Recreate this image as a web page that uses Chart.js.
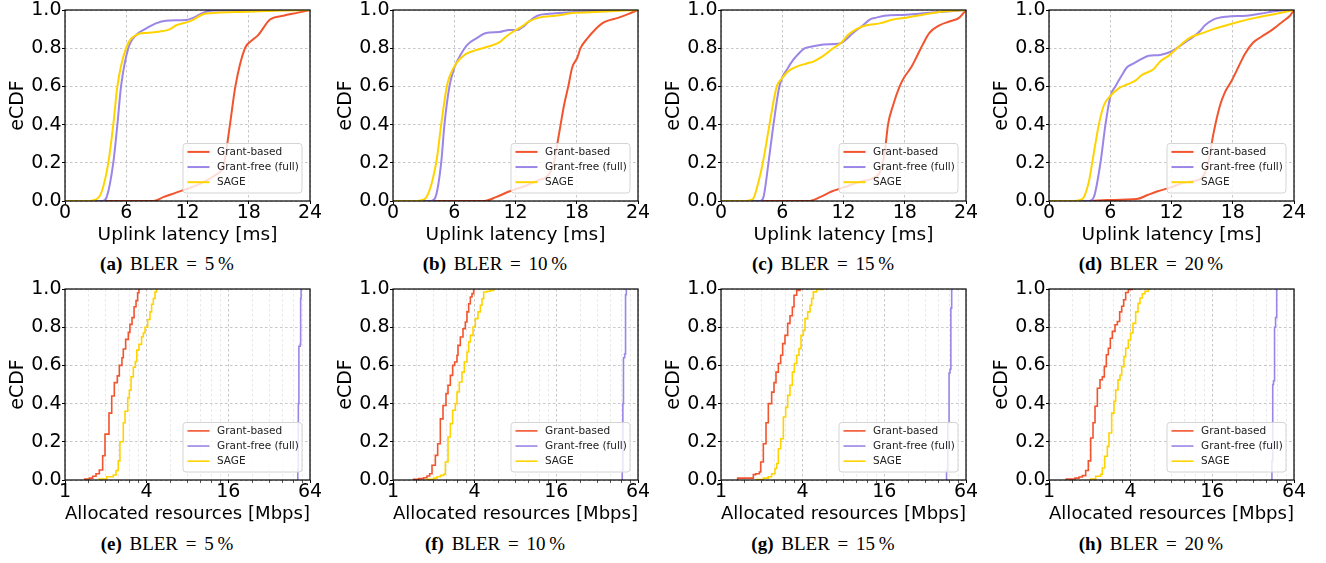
<!DOCTYPE html>
<html>
<head>
<meta charset="utf-8">
<script src="https://cdn.jsdelivr.net/npm/chart.js@4.4.0/dist/chart.umd.min.js"></script>
<style>
  body { margin: 0; background: #fff; width: 1326px; height: 563px; position: relative; overflow: hidden; }
  canvas { position: absolute; }
  .cap { position: absolute; width: 240px; text-align: center; font-family: "Liberation Serif", "DejaVu Serif", serif;
         font-size: 19px; line-height: 20px; word-spacing: 3px; color: #000; white-space: nowrap; }
</style>
</head>
<body>
<script>
// series + labels
const seriesNames = ['Grant-based', 'Grant-free (full)', 'SAGE'];
const seriesColors = ['#f2542d', '#9b85e6', '#ffd300'];
const blerValues = [5, 10, 15, 20];
const topLetters = ['a', 'b', 'c', 'd'];
const bottomLetters = ['e', 'f', 'g', 'h'];
const latTicks = [0, 6, 12, 18, 24];
const resTicks = [1, 4, 16, 64];
const resMinorTicks = [1.5, 2, 2.5, 3, 3.5, 6, 8, 10, 12, 14, 24, 32, 40, 48, 56];
const cdfTicks = [0, 0.2, 0.4, 0.6, 0.8, 1.0];

// uplink latency [ms] vs eCDF
const lat5GB = [[0,0],[8.65,0],[9.63,0.02],[10.94,0.045],[13.22,0.09],[14.86,0.14],[15.3,0.16],[15.6,0.2],[16.16,0.4],[16.69,0.6],[17.63,0.8],[18.29,0.84],[18.94,0.87],[20.08,0.95],[21.39,0.97],[22.7,0.985],[24,1]];
const lat5GF = [[0,0],[3.7,0],[4.08,0.02],[4.73,0.2],[5.13,0.4],[5.49,0.6],[6.2,0.8],[7.0,0.87],[7.84,0.9],[8.9,0.93],[9.9,0.944],[11.9,0.948],[12.6,0.96],[13.5,0.985],[14.5,0.998],[24,1]];
const lat5SG = [[0,0],[2.2,0],[3.1,0.01],[3.6,0.05],[4.24,0.2],[4.73,0.4],[5.13,0.6],[5.98,0.8],[7.0,0.87],[8.0,0.88],[9.6,0.89],[10.3,0.9],[10.9,0.92],[11.9,0.935],[12.6,0.95],[13.4,0.975],[14.9,0.985],[17.1,0.99],[19.8,0.995],[24,1]];

const lat10GB = [[0,0],[8.94,0],[10.08,0.02],[11.38,0.05],[13.0,0.08],[14.31,0.11],[15.12,0.13],[15.77,0.2],[16.1,0.3],[16.42,0.4],[16.75,0.5],[17.17,0.6],[17.56,0.7],[18.05,0.75],[18.37,0.8],[19.02,0.85],[20.49,0.93],[22.11,0.96],[23.09,0.98],[24,1]];
const lat10GF = [[0,0],[3.74,0],[4.16,0.02],[4.72,0.2],[5.04,0.4],[5.53,0.6],[6.02,0.7],[6.67,0.77],[7.32,0.82],[8.13,0.85],[9.11,0.88],[10.41,0.885],[11.38,0.895],[12.2,0.895],[12.68,0.91],[13.33,0.94],[14.15,0.97],[15.28,0.98],[17.89,0.99],[22.44,1],[24,1]];
const lat10SG = [[0,0],[2.11,0],[3.09,0.01],[4.23,0.2],[4.72,0.4],[5.27,0.6],[5.53,0.65],[6.18,0.72],[7.15,0.77],[8.13,0.79],[9.43,0.81],[10.41,0.83],[11.06,0.86],[11.87,0.89],[12.52,0.91],[13.33,0.94],[14.31,0.96],[15.93,0.97],[17.89,0.985],[19.84,0.99],[24,1]];

const lat15GB = [[0,0],[8.55,0],[9.69,0.02],[10.83,0.05],[11.97,0.07],[13.59,0.1],[14.89,0.12],[15.54,0.15],[16.03,0.25],[16.36,0.4],[16.85,0.5],[17.5,0.6],[17.98,0.65],[18.63,0.7],[19.12,0.75],[19.77,0.82],[20.42,0.88],[21.4,0.92],[22.37,0.94],[23.35,0.96],[24,1]];
const lat15GF = [[0,0],[3.84,0],[4.16,0.02],[4.65,0.2],[5.14,0.4],[5.72,0.6],[6.6,0.7],[7.09,0.74],[7.58,0.77],[8.23,0.8],[9.04,0.81],[10.02,0.82],[11.64,0.825],[12.13,0.84],[12.94,0.88],[13.92,0.92],[14.57,0.95],[15.22,0.96],[16.03,0.97],[18.15,0.975],[20.42,0.985],[24,1]];
const lat15SG = [[0,0],[2.21,0],[3.12,0.01],[3.67,0.1],[4.1,0.2],[4.75,0.4],[5.46,0.6],[5.95,0.64],[6.6,0.68],[7.25,0.7],[8.39,0.72],[9.04,0.73],[10.02,0.76],[10.99,0.8],[11.8,0.83],[12.46,0.87],[13.27,0.9],[14.24,0.92],[15.54,0.93],[16.85,0.95],[18.15,0.96],[19.77,0.975],[21.4,0.99],[24,1]];

const lat20GB = [[0,0],[3.74,0],[5.69,0.005],[8.6,0.01],[9.6,0.03],[10.57,0.05],[11.87,0.07],[13.5,0.1],[14.96,0.12],[15.6,0.2],[16.1,0.35],[16.75,0.5],[17.24,0.57],[17.89,0.63],[18.54,0.7],[19.19,0.77],[20,0.83],[20.8,0.86],[21.95,0.9],[22.9,0.94],[23.6,0.97],[24,1]];
const lat20GF = [[0,0],[3.9,0],[4.39,0.02],[5.04,0.2],[5.53,0.4],[6.02,0.55],[6.5,0.6],[7.15,0.66],[7.64,0.7],[8.29,0.72],[8.94,0.74],[9.76,0.76],[10.89,0.765],[11.87,0.78],[12.52,0.8],[13.33,0.83],[14.15,0.86],[14.8,0.89],[15.28,0.92],[16.1,0.95],[17.4,0.965],[19.35,0.97],[20.65,0.98],[22.28,0.995],[24,1]];
const lat20SG = [[0,0],[2.28,0],[3.25,0.01],[3.9,0.1],[4.23,0.2],[4.88,0.4],[5.37,0.5],[6.02,0.55],[6.83,0.59],[7.64,0.61],[8.46,0.63],[9.11,0.66],[10.24,0.69],[10.89,0.73],[11.71,0.76],[12.36,0.79],[13.17,0.83],[13.98,0.86],[15.12,0.88],[16.1,0.9],[17.4,0.92],[18.7,0.94],[20.33,0.96],[22.28,0.98],[24,1]];

// allocated resources [Mbps] vs eCDF (step curves)
const res5GB = [[1.404,0],[1.404,0.005],[1.512,0.01],[1.60,0.02],[1.693,0.033],[1.791,0.052],[1.895,0.127],[1.972,0.24],[2.11,0.35],[2.21,0.44],[2.31,0.51],[2.43,0.545],[2.515,0.6],[2.63,0.64],[2.69,0.686],[2.80,0.736],[2.93,0.773],[3.01,0.815],[3.12,0.85],[3.23,0.907],[3.34,0.939],[3.43,0.98],[3.51,1.0]];
const res5GF = [[51.5,0],[52,0.05],[52.5,0.4],[53,0.7],[54.2,0.71],[54.6,0.95],[55,1.0]];
const res5SG = [[1.79,0],[1.79,0.005],[2.03,0.017],[2.27,0.026],[2.38,0.05],[2.47,0.1],[2.54,0.2],[2.69,0.3],[2.77,0.36],[2.90,0.43],[2.98,0.47],[3.07,0.54],[3.19,0.59],[3.30,0.62],[3.38,0.68],[3.51,0.71],[3.67,0.75],[3.78,0.77],[3.89,0.8],[4.07,0.84],[4.23,0.88],[4.35,0.92],[4.48,0.95],[4.61,0.985],[4.74,1.0]];

const res10GB = [[1.42,0],[1.42,0.004],[1.546,0.007],[1.683,0.012],[1.781,0.021],[1.864,0.033],[1.939,0.077],[2.052,0.129],[2.135,0.19],[2.233,0.32],[2.337,0.39],[2.459,0.452],[2.544,0.496],[2.647,0.548],[2.753,0.6],[2.848,0.618],[2.963,0.653],[3.014,0.705],[3.136,0.749],[3.281,0.792],[3.413,0.827],[3.511,0.88],[3.613,0.923],[3.717,0.958],[3.823,0.976],[3.934,1.0]];
const res10GF = [[48.5,0],[49,0.05],[49.5,0.4],[50,0.64],[51,0.66],[51.8,0.97],[52.5,1.0]];
const res10SG = [[1.781,0],[1.781,0.004],[1.994,0.01],[2.111,0.017],[2.233,0.024],[2.363,0.03],[2.431,0.094],[2.544,0.225],[2.647,0.295],[2.753,0.365],[2.882,0.4],[2.963,0.461],[3.083,0.513],[3.226,0.565],[3.357,0.618],[3.511,0.67],[3.613,0.723],[3.717,0.757],[3.889,0.801],[4.045,0.845],[4.233,0.88],[4.404,0.915],[4.531,0.949],[4.66,0.984],[4.93,0.988],[5.22,0.993],[5.52,1.0]];

const res15GB = [[1.327,0],[1.327,0.01],[1.731,0.028],[1.801,0.033],[1.917,0.042],[1.961,0.094],[2.052,0.19],[2.147,0.3],[2.233,0.4],[2.363,0.46],[2.459,0.51],[2.544,0.565],[2.647,0.61],[2.753,0.653],[2.848,0.714],[2.963,0.757],[3.101,0.82],[3.226,0.86],[3.357,0.906],[3.453,0.967],[3.613,0.993],[3.823,1.0]];
const res15GF = [[45.5,0],[46,0.05],[47,0.3],[48,0.56],[48.8,0.58],[49.5,0.9],[50.2,1.0]];
const res15SG = [[1.831,0],[1.831,0.003],[2.052,0.01],[2.233,0.017],[2.363,0.033],[2.5,0.06],[2.573,0.086],[2.647,0.164],[2.753,0.216],[2.882,0.33],[2.997,0.38],[3.101,0.443],[3.226,0.496],[3.357,0.565],[3.472,0.61],[3.613,0.653],[3.758,0.688],[3.889,0.757],[4.045,0.783],[4.161,0.845],[4.354,0.88],[4.531,0.915],[4.66,0.95],[4.794,0.985],[5.07,0.998],[5.68,1.0]];

const res20GB = [[1.342,0],[1.342,0.005],[1.555,0.01],[1.664,0.016],[1.761,0.023],[1.864,0.05],[1.949,0.1],[2.029,0.22],[2.111,0.3],[2.184,0.386],[2.272,0.48],[2.377,0.525],[2.473,0.54],[2.558,0.595],[2.647,0.656],[2.738,0.69],[2.832,0.742],[2.93,0.778],[3.066,0.813],[3.19,0.83],[3.319,0.88],[3.434,0.91],[3.553,0.944],[3.675,0.982],[3.845,0.997],[4.115,1.0]];
const res20GF = [[43.5,0],[44,0.1],[44.6,0.5],[45.2,0.52],[46,0.8],[46.8,0.85],[47.7,1.0]];
const res20SG = [[2.029,0],[2.029,0.005],[2.208,0.02],[2.404,0.03],[2.473,0.063],[2.573,0.124],[2.692,0.176],[2.769,0.246],[2.897,0.35],[3.014,0.412],[3.101,0.471],[3.226,0.524],[3.338,0.55],[3.434,0.593],[3.572,0.646],[3.675,0.69],[3.845,0.733],[4.0,0.77],[4.161,0.82],[4.354,0.88],[4.531,0.925],[4.687,0.953],[4.876,0.975],[5.1,0.988],[5.4,1.0]];

const latSets = [[lat5GB, lat5GF, lat5SG], [lat10GB, lat10GF, lat10SG], [lat15GB, lat15GF, lat15SG], [lat20GB, lat20GF, lat20SG]];
const resSets = [[res5GB, res5GF, res5SG], [res10GB, res10GF, res10SG], [res15GB, res15GF, res15SG], [res20GB, res20GF, res20SG]];

const FONT = 'DejaVu Sans';
const gridMajor = 'rgba(170,170,170,0.85)';
const gridMinor = 'rgba(200,200,200,0.7)';

// black box around the plot area (matplotlib spines)
const frame = {
  id: 'frame',
  afterDatasetsDraw(chart) {
    const a = chart.chartArea, c = chart.ctx;
    c.save();
    c.strokeStyle = '#000';
    c.lineWidth = 1.2;
    c.strokeRect(a.left, a.top, a.right - a.left, a.bottom - a.top);
    c.restore();
  }
};

// legend in the lower right corner of the plot area
const cdfLegend = {
  id: 'cdfLegend',
  afterDraw(chart) {
    const a = chart.chartArea, c = chart.ctx;
    const w = 119, h = 49.5;
    const x0 = a.right - 8 - w, y0 = a.bottom - 8 - h;
    c.save();
    c.beginPath();
    if (c.roundRect) c.roundRect(x0, y0, w, h, 3); else c.rect(x0, y0, w, h);
    c.fillStyle = 'rgba(255,255,255,0.8)';
    c.fill();
    c.strokeStyle = '#d4d4d4';
    c.lineWidth = 1;
    c.stroke();
    chart.data.datasets.forEach((ds, k) => {
      const y = y0 + 8.4 + k * 15.15;
      c.strokeStyle = ds.borderColor;
      c.lineWidth = ds.borderWidth;
      c.beginPath();
      c.moveTo(x0 + 4.5, y);
      c.lineTo(x0 + 26.5, y);
      c.stroke();
      c.fillStyle = '#222';
      c.font = '10.5px "' + FONT + '"';
      c.textBaseline = 'middle';
      c.textAlign = 'left';
      c.fillText(ds.label, x0 + 34, y);
    });
    c.restore();
  }
};

function pts(arr) {
  return arr.map(p => ({ x: p[0], y: p[1] }));
}

function xLatency() {
  return {
    type: 'linear', min: 0, max: 24,
    afterBuildTicks: s => { s.ticks = latTicks.map(v => ({ value: v })); },
    afterFit: s => { s.height = 49; },
    grid: { color: gridMajor, lineWidth: 0.8, tickColor: '#000', tickLength: 3, tickWidth: 1 },
    border: { display: false, dash: [2.5, 2.5] },
    ticks: { color: '#000', font: { family: FONT, size: 19, lineHeight: 1 }, padding: 0, maxRotation: 0, autoSkip: false,
             callback: v => String(v) },
    title: { display: true, text: 'Uplink latency [ms]', color: '#000',
             font: { family: FONT, size: 18.5, lineHeight: 1.2 }, padding: { top: 0, bottom: 3.6 } }
  };
}

function xResources() {
  const isMajor = c => c.tick && resTicks.includes(c.tick.value);
  return {
    type: 'logarithmic', min: 1, max: 64,
    afterBuildTicks: s => {
      s.ticks = resTicks.concat(resMinorTicks).sort((a, b) => a - b).map(v => ({ value: v }));
    },
    afterFit: s => { s.height = 49; },
    grid: { color: c => isMajor(c) ? gridMajor : gridMinor, lineWidth: c => isMajor(c) ? 0.8 : 0.6,
            tickColor: c => isMajor(c) ? '#000' : '#555', tickLength: 3, tickWidth: 1 },
    border: { display: false, dash: [2.5, 2.5] },
    ticks: { color: '#000', font: { family: FONT, size: 19, lineHeight: 1 }, padding: 0, maxRotation: 0, autoSkip: false,
             callback: v => resTicks.includes(v) ? String(v) : '' },
    title: { display: true, text: 'Allocated resources [Mbps]', color: '#000',
             font: { family: FONT, size: 18.5, lineHeight: 1.2 }, padding: { top: 0, bottom: 3.6 } }
  };
}

function yCdf() {
  return {
    type: 'linear', min: 0, max: 1,
    afterBuildTicks: s => { s.ticks = cdfTicks.map(v => ({ value: v })); },
    afterFit: s => { s.width = 65; },
    grid: { color: gridMajor, lineWidth: 0.8, tickColor: '#000', tickLength: 3, tickWidth: 1 },
    border: { display: false, dash: [2.5, 2.5] },
    ticks: { color: '#000', font: { family: FONT, size: 19, lineHeight: 1 }, padding: 0.5,
             callback: v => v.toFixed(1) },
    title: { display: true, text: 'eCDF', color: '#000',
             font: { family: FONT, size: 19, lineHeight: 1.2 }, padding: { top: 7, bottom: 0 } }
  };
}

function makeChart(left, top, sets, isLog) {
  const cv = document.createElement('canvas');
  cv.width = 328;
  cv.height = 250;
  cv.style.left = left + 'px';
  cv.style.top = top + 'px';
  document.body.appendChild(cv);
  return new Chart(cv, {
    type: 'line',
    data: {
      datasets: sets.map((d, k) => ({
        label: seriesNames[k],
        data: pts(d),
        borderColor: seriesColors[k],
        backgroundColor: seriesColors[k],
        borderWidth: isLog ? 1.6 : 2,
        pointRadius: 0,
        fill: false,
        order: 2 - k,
        stepped: isLog,
        cubicInterpolationMode: isLog ? 'default' : 'monotone'
      }))
    },
    options: {
      responsive: false,
      animation: false,
      devicePixelRatio: 1,
      layout: { padding: { top: 10, right: 18, bottom: 0, left: 0 } },
      plugins: { legend: { display: false }, tooltip: { enabled: false } },
      scales: { x: isLog ? xResources() : xLatency(), y: yCdf() }
    },
    plugins: [frame, cdfLegend]
  });
}

function caption(left, centerY, letter, bler) {
  const d = document.createElement('div');
  d.className = 'cap';
  d.style.left = (left + 167 - 120) + 'px';
  d.style.top = (centerY - 11) + 'px';
  d.innerHTML = '<b>(' + letter + ')</b> BLER = ' + bler + '&#8201;%';
  document.body.appendChild(d);
}

for (let i = 0; i < 4; i++) {
  const left = 328 * i;
  makeChart(left, 0, latSets[i], false);
  makeChart(left, 279, resSets[i], true);
  caption(left, 265, topLetters[i], blerValues[i]);
  caption(left, 545, bottomLetters[i], blerValues[i]);
}
</script>
</body>
</html>
